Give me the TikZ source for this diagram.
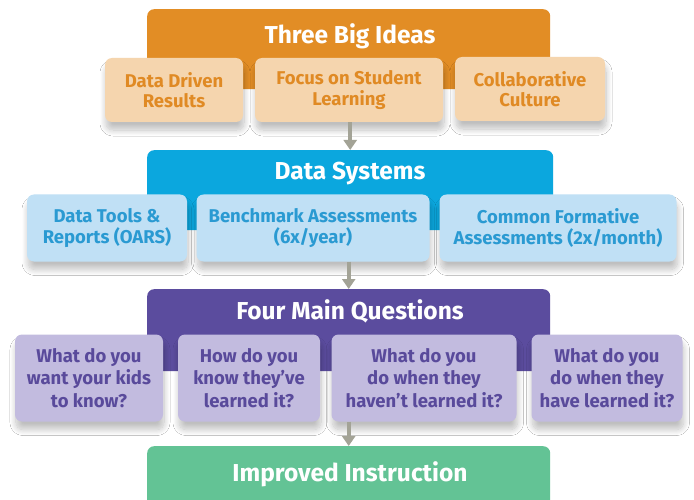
\documentclass[tikz,border=0pt]{standalone}
\usepackage{fontspec}
\setmainfont{Fira Sans}
\usetikzlibrary{shadows.blur,arrows.meta}
\definecolor{orangeHead}{HTML}{E28D25}
\definecolor{orangeFill}{HTML}{F5D5AE}
\definecolor{orangeText}{HTML}{E08A24}
\definecolor{blueHead}{HTML}{0BA7DE}
\definecolor{blueFill}{HTML}{C0E0F5}
\definecolor{blueText}{HTML}{2A9AD2}
\definecolor{purpleHead}{HTML}{5B4C9E}
\definecolor{purpleFill}{HTML}{C2BBDF}
\definecolor{purpleText}{HTML}{594A9B}
\definecolor{greenHead}{HTML}{63C395}
\definecolor{arrowGray}{HTML}{A3A396}
\tikzset{
  header/.style={draw=none, fill=#1, rounded corners=7pt, inner sep=0pt},
  title/.style={text=white, font=\bfseries\fontsize{24.5}{26}\selectfont},
  subbox/.style={draw=none, rounded corners=7pt, align=center, inner sep=0pt,
    font=\bfseries\fontsize{18.5}{20.5}\selectfont,
    blur shadow={shadow xshift=1pt, shadow yshift=-8pt, shadow opacity=25,
      shadow blur radius=6pt, shadow blur steps=12}},
  orangesub/.style={subbox, fill=orangeFill, text=orangeText},
  bluesub/.style={subbox, fill=blueFill, text=blueText},
  purplesub/.style={subbox, fill=purpleFill, text=purpleText,
    font=\bfseries\fontsize{18.5}{22.5}\selectfont},
  flow/.style={draw=arrowGray, line width=4pt,
    -{Triangle[length=10pt,width=13pt]}},
}
\begin{document}
\begin{tikzpicture}[x=1pt,y=-1pt]
\useasboundingbox (0,0) rectangle (694,500);
\fill[white] (0,0) rectangle (694,500);

% --- Three Big Ideas ---
\node[header=orangeHead, minimum width=403, minimum height=80, anchor=north west] (h1) at (147,9) {};
\node[title] (t1) at (350,36) {Three Big Ideas};
\node[orangesub, minimum width=138, minimum height=64] (o1) at (174,90) {Data Driven\\Results};
\node[orangesub, minimum width=188, minimum height=64] (o2) at (349,90) {Focus on Student\\Learning};
\node[orangesub, minimum width=150, minimum height=64] (o3) at (530,89) {Collaborative\\Culture};

% --- Data Systems ---
\node[header=blueHead, minimum width=406, minimum height=80, anchor=north west] (h2) at (147,150) {};
\node[title] (t2) at (350,174) {Data Systems};
\node[bluesub, minimum width=160, minimum height=67] (b1) at (107,228) {Data Tools \&\\Reports (OARS)};
\node[bluesub, minimum width=233, minimum height=67] (b2) at (313,228) {Benchmark Assessments\\(6x/year)};
\node[bluesub, minimum width=237, minimum height=67] (b3) at (558,228) {Common Formative\\Assessments (2x/month)};

% --- Four Main Questions ---
\node[header=purpleHead, minimum width=403, minimum height=82, anchor=north west] (h3) at (147,289) {};
\node[title] (t3) at (350,311) {Four Main Questions};
\node[purplesub, minimum width=148, minimum height=87] (p1) at (89,378) {What do you\\want your kids\\to know?};
\node[purplesub, minimum width=142, minimum height=87] (p2) at (249,378) {How do you\\know they’ve\\learned it?};
\node[purplesub, minimum width=185, minimum height=87] (p3) at (424,378) {What do you\\do when they\\haven’t learned it?};
\node[purplesub, minimum width=151, minimum height=87] (p4) at (607,378) {What do you\\do when they\\have learned it?};

% --- Improved Instruction ---
\node[header=greenHead, minimum width=403, minimum height=70, anchor=north west] (h4) at (147,446) {};
\node[title] (t4) at (350,474) {Improved Instruction};

% --- connectors ---
\draw[flow] (h2.north |- o2.south) -- (h2.north);
\draw[flow] (h3.north |- b2.south) -- (h3.north);
\draw[flow] (h4.north |- p3.south) -- (h4.north);
\end{tikzpicture}
\end{document}
